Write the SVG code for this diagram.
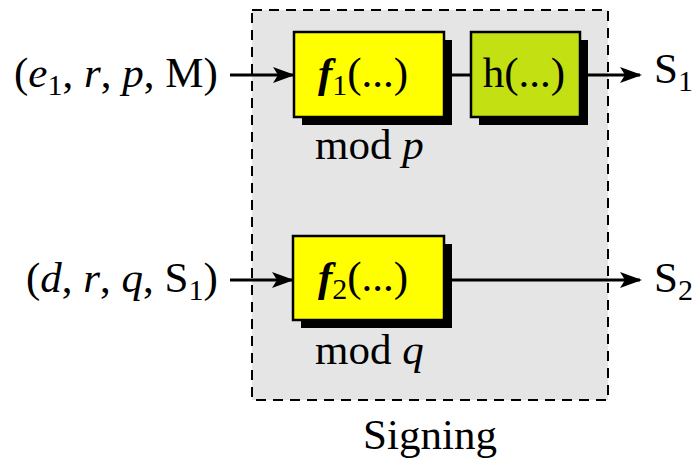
<svg xmlns="http://www.w3.org/2000/svg" width="695" height="465" viewBox="0 0 695 465" font-family="'Liberation Serif', 'DejaVu Serif', serif">
<style>
text{font-family:'Liberation Serif','DejaVu Serif',serif;font-size:43px;fill:#000}
.sub{font-size:30px}
.box{stroke:#000;stroke-width:2.5}
.sh{fill:#000}
.ln{stroke:#000;stroke-width:3;fill:none}
</style>
<defs>
<marker id="ah" markerWidth="22" markerHeight="16" refX="20" refY="8" orient="auto" markerUnits="userSpaceOnUse">
<path d="M0,0 L22,8 L0,16 L5,8 Z" fill="#000"/>
</marker>
</defs>
<rect width="695" height="465" fill="#fff"/>
<g id="signing">
<rect x="252" y="10" width="356" height="390" fill="#e5e5e5" stroke="#000" stroke-width="2" stroke-dasharray="10,7"/>
<text x="430" y="449" text-anchor="middle">Signing</text>
</g>
<g id="connectors">
<line class="ln" x1="230" y1="75" x2="293" y2="75" marker-end="url(#ah)"/>
<line class="ln" x1="452" y1="75" x2="471" y2="75"/>
<line class="ln" x1="588" y1="75" x2="640" y2="75" marker-end="url(#ah)"/>
<line class="ln" x1="230" y1="280" x2="292" y2="280" marker-end="url(#ah)"/>
<line class="ln" x1="452" y1="280" x2="640" y2="280" marker-end="url(#ah)"/>
</g>
<g id="in1"><text x="14" y="87">(<tspan font-style="italic">e</tspan><tspan class="sub" dy="8">1</tspan><tspan dy="-8">, </tspan><tspan font-style="italic">r</tspan>, <tspan font-style="italic">p</tspan>, M)</text></g>
<g id="in2"><text x="26" y="292">(<tspan font-style="italic">d</tspan>, <tspan font-style="italic">r</tspan>, <tspan font-style="italic">q</tspan>, S<tspan class="sub" dy="8">1</tspan><tspan dy="-8">)</tspan></text></g>
<g id="f1">
<rect class="sh" x="302" y="40" width="150" height="85"/>
<rect class="box" x="294" y="32" width="150" height="85" fill="#ffff00"/>
<text x="363" y="87" text-anchor="middle"><tspan font-style="italic" font-weight="bold">f</tspan><tspan class="sub" dy="8">1</tspan><tspan dy="-8">(...)</tspan></text>
<text x="315" y="159">mod <tspan font-style="italic">p</tspan></text>
</g>
<g id="h">
<rect class="sh" x="479" y="40" width="109" height="85"/>
<rect class="box" x="471" y="32" width="109" height="85" fill="#c2e012"/>
<text x="524" y="87" text-anchor="middle">h(...)</text>
</g>
<g id="f2">
<rect class="sh" x="301" y="244" width="151" height="84"/>
<rect class="box" x="293" y="236" width="151" height="84" fill="#ffff00"/>
<text x="363" y="291" text-anchor="middle"><tspan font-style="italic" font-weight="bold">f</tspan><tspan class="sub" dy="8">2</tspan><tspan dy="-8">(...)</tspan></text>
<text x="315" y="364">mod <tspan font-style="italic">q</tspan></text>
</g>
<g id="s1"><text x="654" y="83">S<tspan class="sub" dy="8">1</tspan></text></g>
<g id="s2"><text x="654" y="292">S<tspan class="sub" dy="8">2</tspan></text></g>
</svg>
